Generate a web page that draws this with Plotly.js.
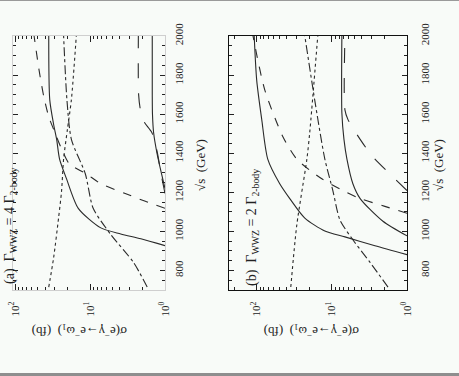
<!DOCTYPE html>
<html>
<head>
<meta charset="utf-8">
<script src="https://cdn.plot.ly/plotly-3.0.1.min.js"></script>
<style>
  html, body { margin:0; padding:0; width:459px; height:376px; overflow:hidden; background:#f8fbf8; }
  #chart { position:absolute; left:0; top:0; width:459px; height:376px; }
  #topbar { position:absolute; left:0; top:0; width:459px; height:1px; background:#9a9a9a; }
  #botbar { position:absolute; left:0; top:373px; width:459px; height:3px; background:#8e8e8e; }
</style>
</head>
<body>
<div id="chart"></div>
<div id="topbar"></div>
<div id="botbar"></div>
<script>
// ---- tick labels ----
const sTicks = [800, 1000, 1200, 1400, 1600, 1800, 2000];
const sigTickVals = [1, 10, 100];
const sigTickText = ['10<sup>0</sup>', '10<sup>1</sup>', '10<sup>2</sup>'];
const sigMinorVals = [2,3,4,5,6,7,8,9,20,30,40,50,60,70,80,90,200];

// ---- panel (a): Γ_WWZ = 4 Γ_2-body ----  (√s in GeV, σ in fb)
const a_solid1_s   = [927, 962, 987, 1018, 1118, 1270, 1370, 1471, 1547, 1673, 2000];
const a_solid1_sig = [1.0, 2.1, 3.9, 7.2, 14.4, 20.7, 25.6, 28.0, 30.7, 34.6, 35.7];
const a_dash1_s    = [1118, 1154, 1194, 1244, 1295, 1345, 1421, 1522, 1587, 1688, 1824, 2000];
const a_dash1_sig  = [1.0, 1.83, 3.4, 7.2, 11.3, 18.9, 24.0, 30.7, 35.7, 41.5, 48.0, 56.0];
const a_dd1_s      = [715, 841, 982, 1118, 1295, 1471, 1673, 2000];
const a_dd1_sig    = [1.73, 2.63, 5.25, 9.1, 11.6, 17.8, 20.4, 22.6];
const a_dot_s      = [715, 866, 1068, 1204, 1370, 1522, 1673, 2000];
const a_dot_sig    = [35.7, 30.7, 26.4, 24.1, 22.6, 20.1, 17.8, 15.3];
const a_solid2_s   = [1220, 1300, 1400, 1506, 1600, 1700, 2000];
const a_solid2_sig = [1.0, 1.12, 1.28, 1.42, 1.47, 1.48, 1.48];
const a_ld2_s      = [1194, 1295, 1406, 1506, 1560, 1622, 1700, 2000];
const a_ld2_sig    = [1.0, 1.13, 1.27, 1.50, 1.9, 2.13, 2.25, 2.27];

// ---- panel (b): Γ_WWZ = 2 Γ_2-body ----
const b_solid1_s   = [881, 926, 972, 1002, 1068, 1168, 1244, 1370, 1572, 1773, 2000];
const b_solid1_sig = [1.0, 2.67, 6.7, 12.4, 22.9, 36.3, 49.4, 71.3, 85.7, 100, 108];
const b_dash1_s    = [1093, 1128, 1168, 1204, 1269, 1370, 1486, 1723, 2000];
const b_dash1_sig  = [1.0, 1.97, 4.2, 6.7, 13.6, 29.3, 45.0, 78.0, 112];
const b_dd1_s      = [715, 841, 957, 1058, 1209, 1370, 1672, 2000];
const b_dd1_sig    = [1.79, 3.1, 5.25, 7.8, 9.7, 12.4, 16.9, 22.9];
const b_dot_s      = [715, 1032, 1370, 1506, 2000];
const b_dot_sig    = [35.2, 29.3, 21.5, 19.7, 15.4];
const b_solid2_s   = [977, 1052, 1168, 1244, 1370, 1471, 1607, 2000];
const b_solid2_sig = [1.0, 2.09, 4.2, 5.25, 6.3, 6.9, 7.36, 7.36];
const b_ld2_s      = [1209, 1294, 1385, 1471, 1572, 1622, 2000];
const b_ld2_sig    = [1.0, 1.69, 2.9, 4.2, 6.1, 6.7, 6.7];

const LC = '#2a2a2a';
// the figure is printed turned a quarter turn: σ runs horizontally (reversed), √s vertically
function tr(s, sig, dash, xa, ya) {
  return { x: sig, y: s, mode: 'lines', xaxis: xa, yaxis: ya, showlegend: false,
           line: { color: LC, width: 1.1, dash: dash, shape: 'spline', smoothing: 0.7 },
           hoverinfo: 'skip' };
}
const data = [
  tr(a_solid1_s, a_solid1_sig, 'solid', 'x', 'y'),
  tr(a_dash1_s, a_dash1_sig, 'dash', 'x', 'y'),
  tr(a_dd1_s, a_dd1_sig, 'dashdot', 'x', 'y'),
  tr(a_dot_s, a_dot_sig, 'dot', 'x', 'y'),
  tr(a_solid2_s, a_solid2_sig, 'solid', 'x', 'y'),
  tr(a_ld2_s, a_ld2_sig, 'longdash', 'x', 'y'),
  tr(b_solid1_s, b_solid1_sig, 'solid', 'x2', 'y2'),
  tr(b_dash1_s, b_dash1_sig, 'dash', 'x2', 'y2'),
  tr(b_dd1_s, b_dd1_sig, 'dashdot', 'x2', 'y2'),
  tr(b_dot_s, b_dot_sig, 'dot', 'x2', 'y2'),
  tr(b_solid2_s, b_solid2_sig, 'solid', 'x2', 'y2'),
  tr(b_ld2_s, b_ld2_sig, 'longdash', 'x2', 'y2')
];

const FONT = 'Liberation Serif, Times New Roman, serif';
const tickFont = { family: FONT, size: 11, color: '#222' };
const titleFont = { family: FONT, size: 13, color: '#222' };
const ytitle = 'σ(e<sup>−</sup>γ→e<sup>−</sup>ω<sub>1</sub>)  (fb)';
const xtitle = '√s  (GeV)';

function sAxis(lineColor, anchor, standoff) {
  return {
    anchor: anchor, domain: [0, 1], range: [700, 2000], side: 'right',
    tickmode: 'array', tickvals: sTicks, tickangle: -90, ticks: 'inside', ticklen: 5,
    tickcolor: '#222', tickfont: tickFont, ticklabelstandoff: standoff,
    showline: true, linecolor: lineColor, linewidth: 1.3, mirror: 'ticks',
    showgrid: false, zeroline: false,
    minor: { dtick: 50, ticks: 'inside', ticklen: 3, tickcolor: '#222' }
  };
}
function sigAxis(lineColor, anchor, dom, rng) {
  return {
    anchor: anchor, domain: dom, type: 'log', range: rng, side: 'bottom',
    tickmode: 'array', tickvals: sigTickVals, ticktext: sigTickText, tickangle: -90,
    ticks: 'inside', ticklen: 6, tickcolor: '#222', tickfont: tickFont, ticklabelstandoff: 6,
    showline: true, linecolor: lineColor, linewidth: 1.3, mirror: 'ticks',
    showgrid: false, zeroline: false,
    minor: { tickmode: 'array', tickvals: sigMinorVals, ticks: 'inside', ticklen: 3, tickcolor: '#222' }
  };
}

// pixel helpers for annotation placement (plot area: x 13..407, y 36..290)
const px = X => (X - 13) / 394;
const py = Y => (290 - Y) / 254;

const annFont = { family: FONT, size: 14, color: '#222' };
const layout = {
  width: 459, height: 376,
  margin: { l: 13, r: 52, t: 36, b: 86 },
  paper_bgcolor: '#f8fbf8', plot_bgcolor: 'rgba(0,0,0,0)',
  font: { family: FONT, color: '#222' },
  xaxis:  sigAxis('#cfcfcf', 'y',  [0, 0.3858], [2.03, 0]),
  yaxis:  sAxis('#cfcfcf', 'x', 3),
  xaxis2: sigAxis('#111', 'y2', [0.548, 1], [2.37, 0]),
  yaxis2: sAxis('#111', 'x2', 7),
  annotations: [
    { xref: 'paper', yref: 'paper', x: px(200), y: py(165), textangle: -90,
      xanchor: 'center', yanchor: 'middle', showarrow: false, font: titleFont, text: xtitle },
    { xref: 'paper', yref: 'paper', x: px(438), y: py(165), textangle: -90,
      xanchor: 'center', yanchor: 'middle', showarrow: false, font: titleFont, text: xtitle },
    { xref: 'paper', yref: 'paper', x: px(80), y: py(331), textangle: 180,
      xanchor: 'center', yanchor: 'middle', showarrow: false, font: titleFont, text: ytitle },
    { xref: 'paper', yref: 'paper', x: px(312), y: py(331), textangle: 180,
      xanchor: 'center', yanchor: 'middle', showarrow: false, font: titleFont, text: ytitle },
    { xref: 'paper', yref: 'paper', x: px(10), y: py(226), textangle: -90,
      xanchor: 'center', yanchor: 'middle', showarrow: false, font: annFont,
      text: '(a)  Γ<sub>WWZ</sub> = 4 Γ<sub>2-body</sub>' },
    { xref: 'paper', yref: 'paper', x: px(252), y: py(228), textangle: -90,
      xanchor: 'center', yanchor: 'middle', showarrow: false, font: annFont,
      text: '(b)  Γ<sub>WWZ</sub> = 2 Γ<sub>2-body</sub>' }
  ]
};

Plotly.newPlot('chart', data, layout, { staticPlot: true, displayModeBar: false });
</script>
</body>
</html>
